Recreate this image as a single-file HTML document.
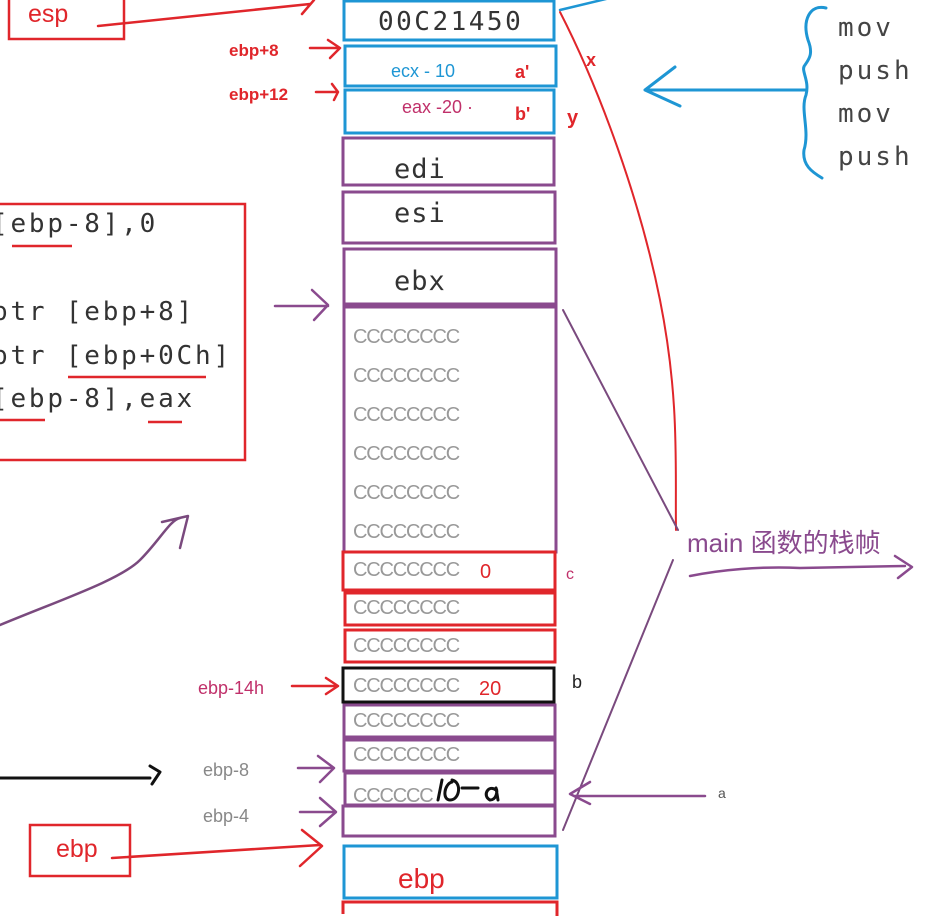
<!DOCTYPE html>
<html><head><meta charset="utf-8"><style>
html,body{margin:0;padding:0;background:#fff;width:931px;height:916px;overflow:hidden}
svg{display:block}
.m{font-family:"DejaVu Sans Mono","Liberation Mono",monospace}
.s{font-family:"Liberation Sans","Noto Sans CJK SC",sans-serif}
.c{font-family:"Liberation Sans",sans-serif;font-size:20px;fill:#999;letter-spacing:-1.2px}
</style></head><body>
<svg width="931" height="916" viewBox="0 0 931 916" xmlns="http://www.w3.org/2000/svg">
<g fill="none" stroke-width="3">
<rect x="344" y="1" width="210" height="39" stroke="#1e96d4"/>
<rect x="345" y="46" width="211" height="40" stroke="#1e96d4"/>
<rect x="345" y="90" width="209" height="43" stroke="#1e96d4"/>
<rect x="343" y="138" width="211" height="47" stroke="#8a4a8e"/>
<rect x="343" y="192" width="212" height="51" stroke="#8a4a8e"/>
<rect x="344" y="249" width="212" height="55" stroke="#8a4a8e"/>
<rect x="344" y="307" width="212" height="245" stroke="#8a4a8e"/>
<rect x="343" y="552" width="212" height="38" stroke="#e0262b"/>
<rect x="345" y="593" width="210" height="32" stroke="#e0262b"/>
<rect x="345" y="630" width="210" height="32" stroke="#e0262b"/>
<rect x="343" y="668" width="211" height="34" stroke="#111"/>
<rect x="344" y="705" width="211" height="32" stroke="#8a4a8e"/>
<rect x="344" y="740" width="211" height="31" stroke="#8a4a8e"/>
<rect x="345" y="773" width="210" height="32" stroke="#8a4a8e"/>
<rect x="343" y="806" width="212" height="30" stroke="#8a4a8e"/>
<rect x="344" y="846" width="213" height="52" stroke="#1e96d4"/>
<path d="M343 914 V902 H557 V916" stroke="#e0262b"/>
<rect x="9" y="-5" width="115" height="44" stroke="#e0262b" stroke-width="2.5"/>
<rect x="-5" y="204" width="250" height="256" stroke="#e0262b" stroke-width="2.5"/>
<rect x="30" y="825" width="100" height="51" stroke="#e0262b" stroke-width="2.5"/>
</g>
<g fill="none" stroke-linecap="round" stroke-linejoin="round">
<path d="M98 26 L310 4 M302 14 L314 0" stroke="#e0262b" stroke-width="2.5"/>
<path d="M310 48 H338 M328 40 L340 48 L330 58" stroke="#e0262b" stroke-width="2.5"/>
<path d="M316 92 H338 M332 84 L338 92 L334 100" stroke="#e0262b" stroke-width="2.5"/>
<path d="M292 686 H336 M326 678 L338 686 L326 694" stroke="#e0262b" stroke-width="2.5"/>
<path d="M112 858 L320 845 M302 830 L322 846 L300 866" stroke="#e0262b" stroke-width="2.5"/>
<path d="M560 12 C600 90 640 200 660 300 C680 400 675 470 676 530" stroke="#e0262b" stroke-width="2"/>
<path d="M560 10 L610 -2" stroke="#1e96d4" stroke-width="2.5"/>
<path d="M645 90 H805 M675 67 L645 90 L680 106" stroke="#1e96d4" stroke-width="3"/>
<path d="M826 8 C810 4 802 20 808 40 C814 55 808 60 805 65 C800 70 810 80 806 95 C800 110 810 130 804 150 C802 165 812 172 822 178" stroke="#1e96d4" stroke-width="3"/>
<path d="M275 306 H328 M312 290 L328 305 L314 320" stroke="#8a4a8e" stroke-width="2.5"/>
<path d="M563 310 L678 530" stroke="#7a4a7e" stroke-width="2"/>
<path d="M673 560 L563 830" stroke="#7a4a7e" stroke-width="2"/>
<path d="M690 576 C720 570 760 566 800 568 L905 566 M895 556 L912 567 L898 578" stroke="#8a4a8e" stroke-width="2.5"/>
<path d="M0 625 C60 600 120 580 140 560 C160 540 170 520 180 518 M162 522 L188 516 L180 548" stroke="#7a4a7e" stroke-width="2.5"/>
<path d="M298 768 H332 M318 756 L334 768 L320 782" stroke="#8a4a8e" stroke-width="2.5"/>
<path d="M300 812 H334 M320 798 L336 812 L320 826" stroke="#8a4a8e" stroke-width="2.5"/>
<path d="M705 796 H575 M590 782 L570 794 L590 804" stroke="#8a4a8e" stroke-width="2.5"/>
<path d="M0 778 H150 M150 766 L160 772 L152 784" stroke="#111" stroke-width="3"/>
<path d="M442 780 L438 800 M452 780 C462 782 460 800 450 800 C442 800 444 784 452 782 M462 788 H478 M496 790 C488 784 482 796 490 800 C496 800 498 792 496 788 L498 800" stroke="#111" stroke-width="3"/>
</g>
<text x="28" y="22" class="s" font-size="25" fill="#e0262b">esp</text>
<text x="378" y="30" class="m" font-size="26" fill="#333" letter-spacing="2.5">00C21450</text>
<text x="229" y="56" class="s" font-size="17" font-weight="bold" fill="#e0262b">ebp+8</text>
<text x="229" y="100" class="s" font-size="17" font-weight="bold" fill="#e0262b">ebp+12</text>
<text x="391" y="77" class="s" font-size="18" fill="#1e96d4">ecx - 10</text>
<text x="515" y="78" class="s" font-size="18" font-weight="bold" fill="#e0262b">a'</text>
<text x="402" y="113" class="s" font-size="18" fill="#c0306a">eax -20 ·</text>
<text x="515" y="120" class="s" font-size="18" font-weight="bold" fill="#e0262b">b'</text>
<text x="586" y="66" class="s" font-size="18" font-weight="bold" fill="#e0262b">x</text>
<text x="567" y="124" class="s" font-size="20" font-weight="bold" fill="#e0262b">y</text>
<text x="394" y="178" class="m" font-size="27" fill="#333" letter-spacing="1">edi</text>
<text x="394" y="222" class="m" font-size="27" fill="#333" letter-spacing="1">esi</text>
<text x="394" y="290" class="m" font-size="27" fill="#333" letter-spacing="1">ebx</text>
<g class="m" font-size="26" fill="#333" letter-spacing="2.8">
<text x="-8" y="232">[ebp-8],0</text>
<text x="-8" y="320">ptr [ebp+8]</text>
<text x="-8" y="364">ptr [ebp+0Ch]</text>
<text x="-8" y="407">[ebp-8],eax</text>
</g>
<g stroke="#e0262b" stroke-width="2.5" fill="none">
<path d="M12 246 H72 M0 420 H45 M68 377 H206 M148 422 H182"/>
</g>
<g class="m" font-size="26" fill="#444" letter-spacing="3">
<text x="838" y="36">mov</text>
<text x="838" y="79">push</text>
<text x="838" y="122">mov</text>
<text x="838" y="165">push</text>
</g>
<g class="c">
<text x="353" y="343">CCCCCCCC</text>
<text x="353" y="382">CCCCCCCC</text>
<text x="353" y="421">CCCCCCCC</text>
<text x="353" y="460">CCCCCCCC</text>
<text x="353" y="499">CCCCCCCC</text>
<text x="353" y="538">CCCCCCCC</text>
<text x="353" y="576">CCCCCCCC</text>
<text x="353" y="614">CCCCCCCC</text>
<text x="353" y="652">CCCCCCCC</text>
<text x="353" y="692">CCCCCCCC</text>
<text x="353" y="727">CCCCCCCC</text>
<text x="353" y="761">CCCCCCCC</text>
<text x="353" y="802">CCCCCC</text>
</g>
<text x="480" y="578" class="s" font-size="20" fill="#e0262b">0</text>
<text x="566" y="579" class="s" font-size="16" fill="#c0306a">c</text>
<text x="479" y="695" class="s" font-size="20" fill="#e0262b">20</text>
<text x="572" y="688" class="s" font-size="18" fill="#222">b</text>
<text x="718" y="798" class="s" font-size="14" fill="#555">a</text>
<text x="198" y="694" class="s" font-size="18" fill="#c0306a">ebp-14h</text>
<text x="203" y="776" class="s" font-size="18" fill="#888">ebp-8</text>
<text x="203" y="822" class="s" font-size="18" fill="#888">ebp-4</text>
<text x="56" y="857" class="s" font-size="25" fill="#e0262b">ebp</text>
<text x="398" y="888" class="s" font-size="28" fill="#e0262b">ebp</text>
<text x="687" y="552" class="s" font-size="26" fill="#8a4a8e">main 函数的栈帧</text>
</svg>
</body></html>
